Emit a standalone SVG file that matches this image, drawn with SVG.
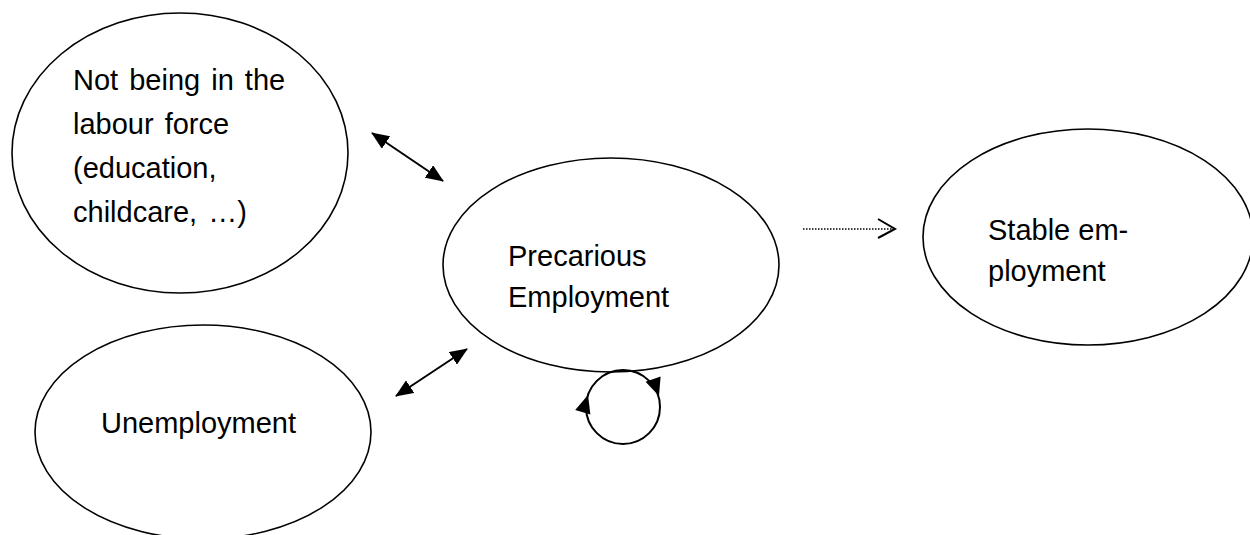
<svg xmlns="http://www.w3.org/2000/svg" width="1250" height="535" viewBox="0 0 1250 535">
<defs>
<style>
.node{fill:#fff;stroke:#000;stroke-width:1.6}
.lbl{font-family:"Liberation Sans",Arial,sans-serif;font-size:29px;fill:#000}
.ws{word-spacing:3px}
.conn{stroke:#000;stroke-width:2;fill:none}
</style>
<marker id="ah" viewBox="0 0 18 15" refX="17" refY="7.5" markerWidth="18" markerHeight="15" markerUnits="userSpaceOnUse" orient="auto-start-reverse">
<path d="M0,0 L18,7.5 L0,15 Z" fill="#000"/>
</marker>
</defs>
<rect width="1250" height="535" fill="#fff"/>
<g id="not-in-labour-force">
<ellipse class="node" cx="180" cy="153" rx="168" ry="140"/>
<text class="lbl ws" x="73" y="90">Not being in the</text>
<text class="lbl ws" x="73" y="134">labour force</text>
<text class="lbl ws" x="73" y="178">(education,</text>
<text class="lbl ws" x="73" y="222">childcare, …)</text>
</g>
<g id="unemployment">
<ellipse class="node" cx="203" cy="432" rx="168" ry="107"/>
<text class="lbl" x="101" y="433">Unemployment</text>
</g>
<g id="precarious-employment">
<ellipse class="node" cx="611" cy="265" rx="168" ry="107"/>
<text class="lbl" x="508" y="266">Precarious</text>
<text class="lbl" x="508" y="307">Employment</text>
</g>
<g id="stable-employment">
<ellipse class="node" cx="1088" cy="237" rx="165" ry="108"/>
<text class="lbl" x="988" y="240">Stable em-</text>
<text class="lbl" x="988" y="281">ployment</text>
</g>
<g id="connectors">
<line class="conn" x1="372" y1="133" x2="443" y2="181" marker-start="url(#ah)" marker-end="url(#ah)"/>
<line class="conn" x1="467" y1="349" x2="396" y2="396" marker-start="url(#ah)" marker-end="url(#ah)"/>
<circle class="conn" cx="623" cy="407" r="37"/>
<polygon points="659,396 660.6,376.5 645.6,381.7" fill="#000"/>
<polygon points="588,395 590.4,414.5 575.2,409.9" fill="#000"/>
<line x1="803" y1="229" x2="893" y2="229" stroke="#000" stroke-width="1.6" stroke-dasharray="1.5,1.5"/>
<polyline class="conn" points="878,219 895,229 878,238"/>
</g>
</svg>
